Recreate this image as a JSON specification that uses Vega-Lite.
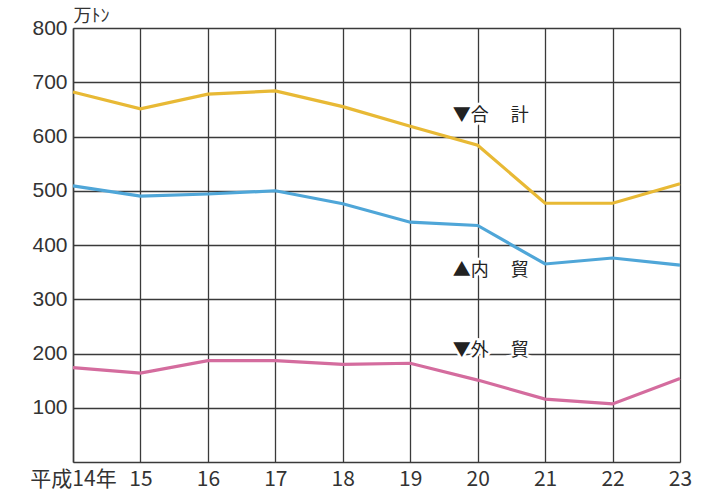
{
  "$schema": "https://vega.github.io/schema/vega-lite/v6.json",
  "width": 607,
  "height": 434,
  "autosize": "none",
  "padding": {"left": 73, "top": 28, "right": 32, "bottom": 37},
  "background": "white",
  "config": {
    "view": {"stroke": null},
    "font": "Noto Sans CJK JP"
  },
  "datasets": {
    "series": [
      {"year": 14, "type": "合計", "value": 682},
      {"year": 15, "type": "合計", "value": 651},
      {"year": 16, "type": "合計", "value": 678},
      {"year": 17, "type": "合計", "value": 684},
      {"year": 18, "type": "合計", "value": 655},
      {"year": 19, "type": "合計", "value": 619},
      {"year": 20, "type": "合計", "value": 584},
      {"year": 21, "type": "合計", "value": 477},
      {"year": 22, "type": "合計", "value": 477},
      {"year": 23, "type": "合計", "value": 513},
      {"year": 14, "type": "内貿", "value": 509},
      {"year": 15, "type": "内貿", "value": 490},
      {"year": 16, "type": "内貿", "value": 494},
      {"year": 17, "type": "内貿", "value": 500},
      {"year": 18, "type": "内貿", "value": 476},
      {"year": 19, "type": "内貿", "value": 442},
      {"year": 20, "type": "内貿", "value": 436},
      {"year": 21, "type": "内貿", "value": 365},
      {"year": 22, "type": "内貿", "value": 376},
      {"year": 23, "type": "内貿", "value": 363},
      {"year": 14, "type": "外貿", "value": 174},
      {"year": 15, "type": "外貿", "value": 164},
      {"year": 16, "type": "外貿", "value": 187},
      {"year": 17, "type": "外貿", "value": 187},
      {"year": 18, "type": "外貿", "value": 180},
      {"year": 19, "type": "外貿", "value": 182},
      {"year": 20, "type": "外貿", "value": 151},
      {"year": 21, "type": "外貿", "value": 116},
      {"year": 22, "type": "外貿", "value": 107},
      {"year": 23, "type": "外貿", "value": 154}
    ],
    "labels": [
      {"year": 19.63, "value": 637, "text": "▼合　  計"},
      {"year": 19.63, "value": 352, "text": "▲内　  貿"},
      {"year": 19.63, "value": 204, "text": "▼外　  貿"}
    ]
  },
  "layer": [
    {
      "data": {"name": "series"},
      "mark": {"type": "line", "strokeWidth": 3.2, "interpolate": "linear"},
      "encoding": {
        "x": {
          "field": "year", "type": "quantitative",
          "scale": {"domain": [14, 23], "nice": false, "zero": false},
          "axis": {
            "values": [14, 15, 16, 17, 18, 19, 20, 21, 22, 23],
            "format": "d",
            "labelExpr": "datum.value == 14 ? '平成14年' : datum.label",
            "title": null,
            "grid": true,
            "gridColor": "#3a3a3a",
            "gridWidth": 1.3,
            "gridOpacity": 1,
            "ticks": false,
            "domainColor": "#3a3a3a",
            "domainWidth": 1.5,
            "labelFont": "Liberation Sans Narrow, Noto Sans CJK JP",
            "labelFontSize": 21,
            "labelColor": "#333333",
            "labelPadding": 6,
            "labelFlush": false
          }
        },
        "y": {
          "field": "value", "type": "quantitative",
          "scale": {"domain": [0, 800], "nice": false},
          "axis": {
            "values": [100, 200, 300, 400, 500, 600, 700, 800],
            "title": "万ﾄﾝ",
            "titleAngle": 0,
            "titleAlign": "left",
            "titleBaseline": "bottom",
            "titleX": 0,
            "titleY": -3,
            "titleFontSize": 18,
            "titleFontWeight": "normal",
            "titleColor": "#333333",
            "grid": true,
            "gridColor": "#3a3a3a",
            "gridWidth": 1.3,
            "gridOpacity": 1,
            "ticks": false,
            "domainColor": "#3a3a3a",
            "domainWidth": 1.5,
            "labelFont": "Liberation Sans, Noto Sans CJK JP",
            "labelFontSize": 21,
            "labelColor": "#333333",
            "labelPadding": 6
          }
        },
        "color": {
          "field": "type", "type": "nominal",
          "scale": {"domain": ["合計", "内貿", "外貿"], "range": ["#E8B935", "#4FA6D8", "#D46C9E"]},
          "legend": null
        }
      }
    },
    {
      "data": {"name": "labels"},
      "mark": {"type": "text", "align": "left", "baseline": "middle", "fontSize": 18, "stroke": "white", "strokeWidth": 5, "fill": "white"},
      "encoding": {
        "x": {"field": "year", "type": "quantitative"},
        "y": {"field": "value", "type": "quantitative"},
        "text": {"field": "text"}
      }
    },
    {
      "data": {"name": "labels"},
      "mark": {"type": "text", "align": "left", "baseline": "middle", "fontSize": 18, "fill": "#222222"},
      "encoding": {
        "x": {"field": "year", "type": "quantitative"},
        "y": {"field": "value", "type": "quantitative"},
        "text": {"field": "text"}
      }
    }
  ]
}
